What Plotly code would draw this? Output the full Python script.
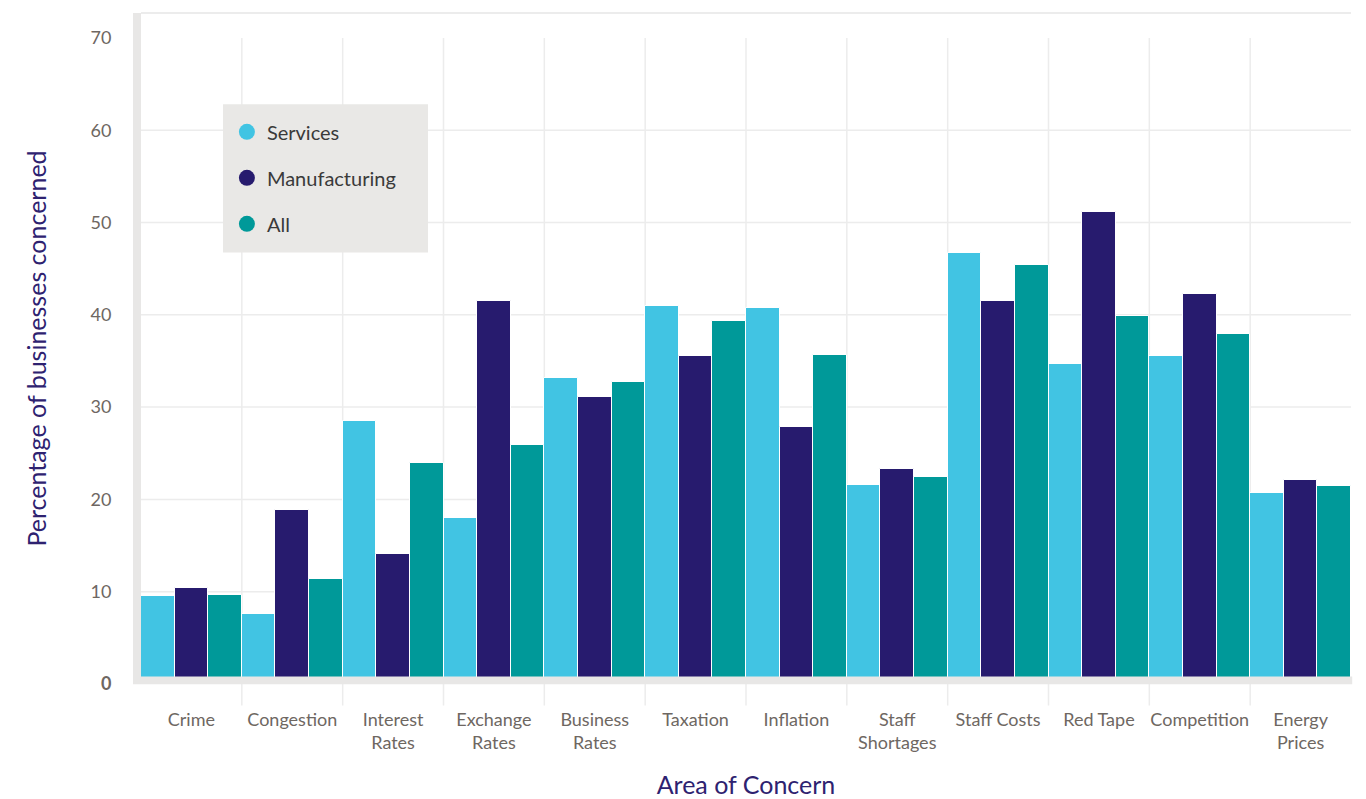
import plotly.graph_objects as go

categories = ["Crime", "Congestion", "Interest<br>Rates", "Exchange<br>Rates", "Business<br>Rates",
              "Taxation", "Inflation", "Staff<br>Shortages", "Staff Costs", "Red Tape",
              "Competition", "Energy<br>Prices"]
services = [9.5, 7.6, 28.5, 18.0, 33.2, 41.0, 40.7, 21.6, 46.7, 34.7, 35.5, 20.7]
manufacturing = [10.4, 18.8, 14.1, 41.5, 31.1, 35.5, 27.8, 23.3, 41.5, 51.1, 42.3, 22.1]
all_ = [9.6, 11.4, 23.9, 25.9, 32.7, 39.3, 35.7, 22.4, 45.4, 39.9, 37.9, 21.4]
series_names = ["Services", "Manufacturing", "All"]
colors = ["#41c4e3", "#271b6e", "#009999"]
y_ticks = [0, 10, 20, 30, 40, 50, 60, 70]
y_tick_text = ["<b>0</b>", "10", "20", "30", "40", "50", "60", "70"]
y_grid = [10, 20, 30, 40, 50, 60]
y_max = 72.7

TICK_COL = "#6e6762"
TITLE_COL = "#2e2270"
GRID_COL = "#ececec"
BAND_COL = "#e8e7e6"
FONT = "Lato"

fig = go.Figure()
for name, vals, col in zip(series_names, [services, manufacturing, all_], colors):
    fig.add_trace(go.Bar(x=categories, y=vals, name=name, marker=dict(color=col, line=dict(color="white", width=1)),
                         showlegend=False))
# legend entries with circle markers
for i, (name, col) in enumerate(zip(series_names, colors)):
    fig.add_trace(go.Scatter(x=[None], y=[None], mode="markers", name=name, legendgroup=name,
                             marker=dict(color=col, size=16, symbol="circle")))

shapes = []
for g in y_grid:
    shapes.append(dict(type="line", xref="paper", yref="y", x0=0, x1=1, y0=g, y1=g,
                       line=dict(color=GRID_COL, width=1.5), layer="below"))
shapes.append(dict(type="line", xref="paper", yref="paper", x0=0, x1=1, y0=1, y1=1,
                   line=dict(color=GRID_COL, width=2), layer="below"))
for i in range(len(categories) - 1):
    shapes.append(dict(type="line", xref="x", yref="paper", x0=i + 0.5, x1=i + 0.5,
                       y0=-0.032, y1=70 / y_max, line=dict(color=GRID_COL, width=1.5), layer="below"))
shapes.append(dict(type="rect", xref="paper", yref="paper", x0=-0.0066, x1=1.001, y0=-0.0005, y1=0.0113,
                   fillcolor=BAND_COL, line=dict(width=0), layer="above"))
shapes.append(dict(type="rect", xref="paper", yref="paper", x0=0.0678, x1=0.2372, y0=0.643, y1=0.864,
                   fillcolor="#e9e8e6", line=dict(width=0), layer="above"))

fig.update_layout(
    width=1366, height=799,
    margin=dict(l=141, r=15, t=13, b=115),
    paper_bgcolor="white", plot_bgcolor="white",
    barmode="group", bargap=0, bargroupgap=0,
    font=dict(family=FONT, color=TICK_COL),
    shapes=shapes,
    showlegend=True,
    legend=dict(x=0.071, y=0.852, xanchor="left", yanchor="top", bgcolor="rgba(0,0,0,0)",
                font=dict(size=20, color="#3a3a3a", family=FONT), traceorder="grouped",
                tracegroupgap=17, itemsizing="trace", itemwidth=30),
    xaxis=dict(showgrid=False, ticks="outside", ticklen=19, tickcolor="rgba(0,0,0,0)", automargin=False,
               tickfont=dict(size=18, color=TICK_COL), showline=False, zeroline=False,
               title=dict(text="Area of Concern", font=dict(size=25, color=TITLE_COL), standoff=29)),
    yaxis=dict(range=[0, y_max], tickvals=y_ticks, ticktext=y_tick_text, showgrid=False, zeroline=False,
               showline=True, linewidth=8, linecolor=BAND_COL, ticks="outside", ticklen=18, automargin=False,
               tickcolor="rgba(0,0,0,0)", tickfont=dict(size=18, color=TICK_COL),
               title=dict(text="Percentage of businesses concerned", font=dict(size=25, color=TITLE_COL), standoff=40)),
)

fig.write_html("out.html")
